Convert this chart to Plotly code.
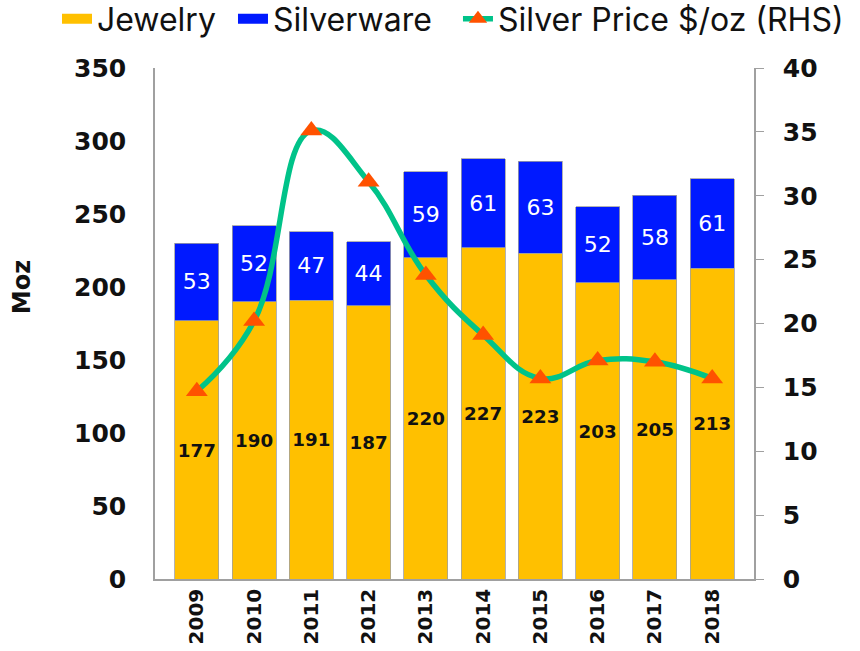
import plotly.graph_objects as go

years = ["2009", "2010", "2011", "2012", "2013", "2014", "2015", "2016", "2017", "2018"]
jewelry = [177, 190, 191, 187, 220, 227, 223, 203, 205, 213]
silverware = [53, 52, 47, 44, 59, 61, 63, 52, 58, 61]
silver_price = [14.7, 20.2, 35.1, 31.1, 23.8, 19.1, 15.7, 17.1, 17.0, 15.7]
left_ticks = [0, 50, 100, 150, 200, 250, 300, 350]
right_ticks = [0, 5, 10, 15, 20, 25, 30, 35, 40]

JEW_COLOR = "#FFC000"
SIL_COLOR = "#0019FF"
LINE_COLOR = "#00C389"
MARK_COLOR = "#FF5200"
TICKFONT = dict(family="DejaVu Sans", size=25, color="#111111", weight="bold")
XTICKFONT = dict(family="DejaVu Sans", size=20, color="#111111", weight="bold")

fig = go.Figure()
fig.add_trace(go.Bar(
    x=years, y=jewelry, name="Jewelry", showlegend=False,
    marker=dict(color=JEW_COLOR, line=dict(color="#a0a0a0", width=0.8)),
    text=[str(v) for v in jewelry], textposition="inside", insidetextanchor="middle",
    textfont=dict(family="DejaVu Sans", size=19, color="#111111", weight="bold"),
    textangle=0,
))
fig.add_trace(go.Bar(
    x=years, y=silverware, name="Silverware", showlegend=False,
    marker=dict(color=SIL_COLOR, line=dict(color="#a0a0a0", width=0.8)),
    text=[str(v) for v in silverware], textposition="inside", insidetextanchor="middle",
    textfont=dict(family="DejaVu Sans", size=22, color="white"),
    textangle=0,
))
fig.add_trace(go.Scatter(
    x=years, y=silver_price, name="Silver Price $/oz (RHS)", yaxis="y2",
    mode="lines+markers", showlegend=False,
    line=dict(color=LINE_COLOR, width=5.5, shape="spline", smoothing=1.2),
    marker=dict(symbol="triangle-up", size=19, color=MARK_COLOR),
))
# legend entries (wide swatches as in the reference), one legend each for exact placement
fig.add_trace(go.Scatter(x=[None], y=[None], name="Jewelry", mode="lines",
                         line=dict(color=JEW_COLOR, width=16), legend="legend"))
fig.add_trace(go.Scatter(x=[None], y=[None], name="Silverware", mode="lines",
                         line=dict(color=SIL_COLOR, width=16), legend="legend2"))
fig.add_trace(go.Scatter(x=[None], y=[None], name="Silver Price $/oz (RHS)", mode="lines+markers",
                         line=dict(color=LINE_COLOR, width=5.5),
                         marker=dict(symbol="triangle-up", size=19, color=MARK_COLOR),
                         legend="legend3"))

LEG = dict(orientation="h", xanchor="left", y=1.15, yanchor="top",
           font=dict(family="Inter", size=32, color="#111111"),
           itemwidth=30, bgcolor="rgba(0,0,0,0)")

fig.update_layout(
    width=860, height=651,
    barmode="stack", bargap=0.23,
    plot_bgcolor="white", paper_bgcolor="white",
    margin=dict(l=155, r=106, t=68, b=72, autoexpand=False),
    showlegend=True,
    legend=dict(LEG, x=-0.1636),
    legend2=dict(LEG, x=0.1302),
    legend3=dict(LEG, x=0.5058),
    xaxis=dict(type="category", tickangle=-90, tickfont=XTICKFONT,
               showline=True, linecolor="#a0a0a0", linewidth=1.5, ticks="",
               showgrid=False, ticklabelstandoff=0),
    yaxis=dict(range=[0, 350], tickvals=left_ticks, tickfont=TICKFONT,
               showline=True, linecolor="#a0a0a0", linewidth=1.5, ticks="",
               showgrid=False, zeroline=False, ticklabelstandoff=22),
    yaxis2=dict(range=[0, 40], tickvals=right_ticks, tickfont=TICKFONT,
                overlaying="y", side="right",
                showline=True, linecolor="#a0a0a0", linewidth=1.5,
                ticks="outside", ticklen=8, tickcolor="#a0a0a0",
                showgrid=False, zeroline=False, ticklabelstandoff=14),
    annotations=[dict(text="Moz", xref="paper", yref="paper", x=-0.222, y=0.571,
                      xanchor="center", yanchor="middle", textangle=-90, showarrow=False,
                      font=dict(family="DejaVu Sans", size=24, color="#111111", weight="bold"))],
)

fig.write_html("out.html", config={"displayModeBar": False},
               post_script="document.body.style.margin='0';document.body.style.padding='0';")
